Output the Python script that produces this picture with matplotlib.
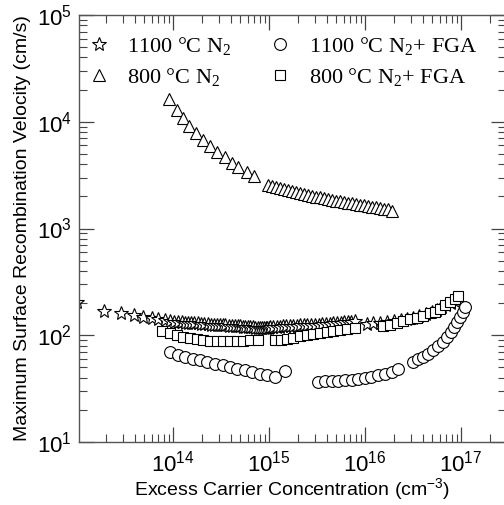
import numpy as np
import matplotlib
matplotlib.use("Agg")
import matplotlib.pyplot as plt
from matplotlib.ticker import LogLocator, NullFormatter

plt.rcParams['font.family'] = ['Liberation Sans', 'DejaVu Sans']
plt.rcParams['mathtext.default'] = 'regular'

# 1100 C N2 (stars)
star_x = [1.0e13, 1.9e13, 2.9e13, 3.9e13, 4.9e13, 6.0e13, 7.0e13, 8.3e13, 9.3e13,
          1.03e14, 1.13e14, 1.23e14, 1.33e14, 1.43e14, 1.53e14, 1.65e14, 1.8e14,
          1.95e14, 2.1e14, 2.3e14, 2.5e14, 2.7e14, 2.9e14, 3.1e14, 3.3e14, 3.5e14,
          3.8e14, 4.1e14, 4.4e14, 4.7e14, 5.0e14, 5.3e14, 5.6e14, 6.0e14, 6.4e14,
          6.8e14, 7.2e14, 7.6e14, 8.0e14, 8.4e14, 8.8e14, 9.2e14, 9.6e14, 1.0e15,
          1.02e15, 1.1e15, 1.2e15, 1.3e15, 1.4e15, 1.5e15, 1.65e15, 1.8e15, 1.95e15,
          2.1e15, 2.3e15, 2.5e15, 2.75e15, 3.0e15, 3.3e15, 3.6e15, 3.95e15, 4.3e15,
          4.7e15, 5.1e15, 5.6e15, 6.1e15, 6.6e15, 7.2e15, 7.9e15,
          1.04e16, 1.22e16, 1.45e16, 1.7e16, 2.0e16, 2.35e16, 2.75e16, 3.2e16,
          3.7e16, 4.3e16, 5.0e16, 5.6e16, 6.3e16, 7.0e16, 7.8e16, 8.6e16]
star_y = [205, 169, 160, 154, 148, 145, 141, 138, 136,
          134, 133, 132, 131, 130.5, 130, 129.5, 129,
          128.5, 128, 127, 126, 125.5, 125, 124.5, 124, 123.5,
          123, 122.5, 122, 121.5, 121, 120.5, 120, 119.5, 119,
          118.5, 118, 118, 117.5, 117, 117, 116.5, 116, 116,
          119, 119.5, 120, 120.5, 121, 121.5, 122, 122.5, 123,
          123.5, 124, 124.5, 125, 125.5, 126, 126.5, 127, 128,
          129, 130, 131, 132, 133, 134, 136,
          128.5, 130, 131, 133, 135, 138, 142, 146,
          151, 157, 165, 173, 182, 192, 201, 209]

# 1100 C N2 + FGA (circles)
circ_x = [9.3e13, 1.136e14, 1.33e14, 1.6e14, 1.91e14, 2.28e14, 2.74e14, 3.3e14,
          3.93e14, 4.68e14, 5.62e14, 6.7e14, 8.05e14, 9.6e14, 1.155e15, 1.47e15,
          3.27e15, 3.83e15, 4.5e15, 5.27e15, 6.19e15, 7.26e15, 8.51e15, 1.0e16,
          1.17e16, 1.38e16, 1.62e16, 1.9e16, 2.22e16, 3.18e16, 3.59e16, 4.05e16,
          4.56e16, 5.14e16, 5.8e16, 6.44e16, 7.09e16, 7.81e16, 8.46e16, 9.16e16,
          9.77e16, 1.04e17, 1.11e17]
circ_y = [69.8, 65, 62.7, 60.5, 58.4, 56.3, 54.3, 52.4,
          50.6, 48.8, 47.1, 45.4, 43.8, 42.3, 40.8, 46.4,
          36.7, 36.9, 37.2, 37.4, 37.9, 38.5, 39.1, 39.6,
          40.8, 42, 43.2, 45.1, 47.8, 56.3, 59.3, 62.7,
          67.4, 72.5, 78.9, 86.5, 96.3, 107, 120, 133,
          148, 165, 184]

# 800 C N2 (triangles)
tri_x = [9.15e13, 1.093e14, 1.262e14, 1.479e14, 1.722e14, 2.04e14, 2.43e14,
         2.89e14, 3.48e14, 4.09e14, 4.79e14, 5.86e14, 6.98e14,
         9.77e14, 1.076e15, 1.185e15, 1.30e15, 1.43e15, 1.58e15, 1.74e15, 1.91e15,
         2.11e15, 2.32e15, 2.55e15, 2.81e15, 3.09e15, 3.40e15, 3.75e15, 4.13e15,
         4.54e15, 5.0e15, 5.5e15, 6.06e15, 6.67e15, 7.35e15, 8.09e15, 8.9e15,
         9.8e15, 1.08e16, 1.19e16, 1.31e16, 1.44e16, 1.59e16, 1.75e16, 1.93e16]
tri_y = [16500, 12940, 10740, 9040, 7830, 6790, 5970,
         5250, 4640, 4110, 3740, 3410, 3130,
         2577, 2523, 2471, 2401, 2350, 2301, 2250, 2203,
         2158, 2110, 2066, 2023, 1992, 1963, 1920, 1897,
         1855, 1828, 1800, 1777, 1750, 1725, 1703, 1676,
         1652, 1631, 1606, 1583, 1561, 1538, 1516, 1472]

# 800 C N2 + FGA (squares)
sq_x = [7.74e13, 9.31e13, 1.09e14, 1.28e14, 1.50e14, 1.77e14, 2.07e14, 2.43e14,
        2.85e14, 3.34e14, 3.93e14, 4.61e14, 5.40e14, 6.34e14, 7.62e14,
        1.155e15, 1.324e15, 1.528e15, 1.79e15, 2.10e15, 2.47e15, 2.89e15, 3.40e15,
        3.99e15, 4.68e15, 5.49e15, 6.55e15, 7.87e15,
        1.55e16, 1.82e16, 2.14e16, 2.51e16, 2.94e16, 3.46e16, 4.05e16, 4.75e16,
        5.36e16, 6.04e16, 6.81e16, 7.68e16, 8.66e16, 9.38e16]
sq_y = [109, 104, 100, 96.4, 94.4, 91.8, 89.8, 89.0,
        88, 88, 88, 88, 89, 89.8, 91.2,
        89.8, 91.2, 93.2, 95.2, 98, 100, 103.7, 105.2,
        107.5, 109.7, 113, 115.5, 118,
        122, 126, 130, 136, 141, 146, 151, 160,
        165, 178, 191, 205, 220, 231]

labels = ['1100 °C N$_2$', '800 °C N$_2$',
          '1100 °C N$_2$+ FGA', '800 °C N$_2$+ FGA']

fig = plt.figure(figsize=(5.04, 5.05), dpi=100)
ax = fig.add_axes([79 / 504, 1 - 442 / 505, 427 / 504, 427 / 505])

mk = dict(linestyle='none', mfc='white', mec='black', mew=0.8)
ax.plot(star_x, star_y, marker='*', ms=10, label=labels[0], **mk)
ax.plot(tri_x, tri_y, marker='^', ms=9, label=labels[1], **mk)
ax.plot(circ_x, circ_y, marker='o', ms=8.5, label=labels[2], **mk)
ax.plot(sq_x, sq_y, marker='s', ms=7.5, label=labels[3], **mk)

ax.set_xscale('log')
ax.set_yscale('log')
ax.set_xlim(10 ** 13.02, 10 ** 17.47)
ax.set_ylim(10, 1e5)

for axis in (ax.xaxis, ax.yaxis):
    axis.set_major_locator(LogLocator(base=10, numticks=10))
    axis.set_minor_locator(LogLocator(base=10, subs=np.arange(2, 10), numticks=10))
    axis.set_minor_formatter(NullFormatter())

ax.tick_params(which='both', direction='in', top=True, right=True,
               color='#444444', labelsize=16)
ax.tick_params(which='major', length=11, width=0.9)
ax.tick_params(which='minor', length=5.5, width=0.8)
ax.tick_params(axis='x', pad=6)
ax.tick_params(axis='y', pad=5)
for s in ax.spines.values():
    s.set_color('#555555')
    s.set_linewidth(1.0)

ax.set_xlabel('Excess Carrier Concentration (cm$^{-3}$)', fontsize=14, labelpad=0)
ax.set_ylabel('Maximum Surface Recombination Velocity (cm/s)', fontsize=14, labelpad=4)

leg = ax.legend(loc='upper left', ncol=2, frameon=False,
                prop={'family': 'Liberation Serif', 'size': 16},
                bbox_to_anchor=(-0.04, 1.0), handletextpad=0.55,
                columnspacing=1.4, labelspacing=0.4, handlelength=1.5)

fig.savefig('out.png', dpi=100)
